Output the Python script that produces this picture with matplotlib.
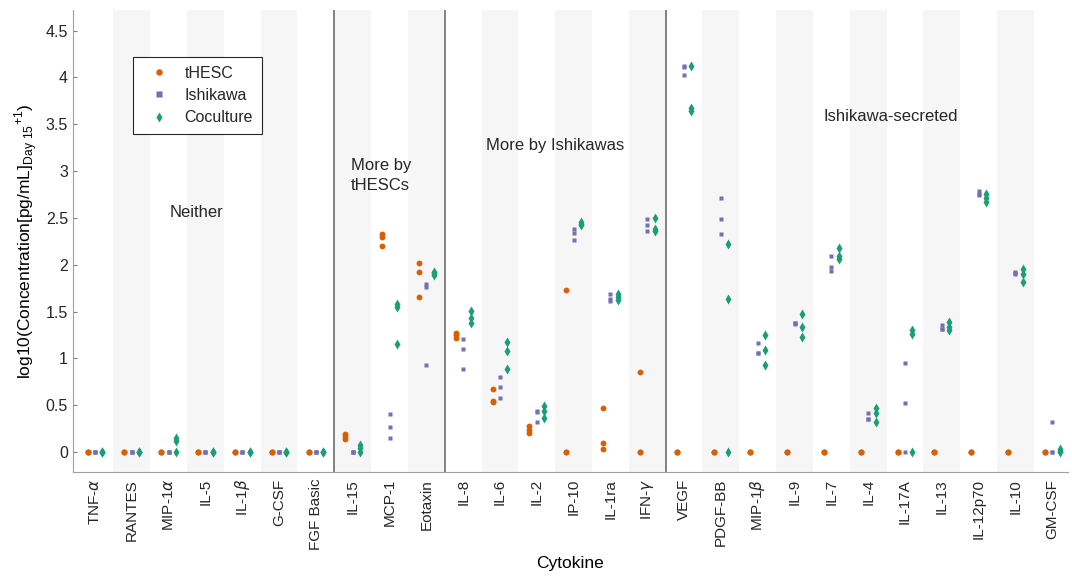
import matplotlib
matplotlib.use("Agg")
import matplotlib.pyplot as plt
from matplotlib import rcParams

rcParams['font.family'] = 'sans-serif'
rcParams['font.sans-serif'] = ['Liberation Sans', 'DejaVu Sans']
rcParams['mathtext.fontset'] = 'custom'
rcParams['mathtext.rm'] = 'Liberation Sans'
rcParams['mathtext.it'] = 'DejaVu Sans:italic'
rcParams['text.color'] = '#262626'

# --- data ---
cytokines = ["TNF-$\\alpha$", "RANTES", "MIP-1$\\alpha$", "IL-5", "IL-1$\\beta$", "G-CSF", "FGF Basic",
             "IL-15", "MCP-1", "Eotaxin",
             "IL-8", "IL-6", "IL-2", "IP-10", "IL-1ra", "IFN-$\\gamma$",
             "VEGF", "PDGF-BB", "MIP-1$\\beta$", "IL-9", "IL-7", "IL-4", "IL-17A", "IL-13",
             "IL-12p70", "IL-10", "GM-CSF"]

thesc = [[0, 0, 0], [0, 0, 0], [0, 0, 0], [0, 0, 0], [0, 0, 0], [0, 0, 0], [0, 0, 0],
         [0.19, 0.17, 0.14], [2.33, 2.30, 2.20], [2.02, 1.92, 1.66],
         [1.27, 1.25, 1.22], [0.67, 0.55, 0.54], [0.28, 0.24, 0.20], [1.73, 0, 0],
         [0.47, 0.10, 0.03], [0.86, 0, 0],
         [0, 0, 0], [0, 0, 0], [0, 0, 0], [0, 0, 0], [0, 0, 0], [0, 0, 0], [0, 0, 0],
         [0, 0, 0], [0, 0, 0], [0, 0, 0], [0, 0, 0]]

ishikawa = [[0, 0, 0], [0, 0, 0], [0, 0, 0], [0, 0, 0], [0, 0, 0], [0, 0, 0], [0, 0, 0],
            [0, 0, 0], [0.41, 0.27, 0.15], [1.80, 1.76, 0.93],
            [1.21, 1.10, 0.89], [0.80, 0.70, 0.58], [0.44, 0.43, 0.32], [2.38, 2.34, 2.26],
            [1.69, 1.63, 1.61], [2.49, 2.43, 2.36],
            [4.12, 4.11, 4.03], [2.71, 2.49, 2.33], [1.17, 1.06, 1.06], [1.38, 1.38, 1.37],
            [2.09, 1.98, 1.93], [0.42, 0.35, 0.35], [0.95, 0.53, 0],
            [1.36, 1.32, 1.31], [2.79, 2.76, 2.74], [1.92, 1.91, 1.90], [0.32, 0, 0]]

coculture = [[0, 0, 0], [0, 0, 0], [0, 0.12, 0.15], [0, 0, 0], [0, 0, 0], [0, 0, 0], [0, 0, 0],
             [0, 0.05, 0.08], [1.58, 1.55, 1.15], [1.92, 1.91, 1.89],
             [1.51, 1.43, 1.38], [1.18, 1.08, 0.89], [0.49, 0.44, 0.37], [2.46, 2.44, 2.42],
             [1.69, 1.66, 1.62], [2.50, 2.38, 2.36],
             [4.12, 3.67, 3.64], [2.22, 1.63, 0], [1.25, 1.09, 0.93], [1.48, 1.34, 1.23],
             [2.18, 2.09, 2.06], [0.47, 0.42, 0.32], [1.30, 1.26, 0],
             [1.39, 1.34, 1.30], [2.76, 2.71, 2.67], [1.96, 1.90, 1.82], [0.03, 0.01, 0]]

group_edges = [7.5, 10.5, 16.5]
group_labels = ["Neither", "More by\ntHESCs", "More by Ishikawas", "Ishikawa-secreted"]

C_THESC = "#d95f02"
C_ISHI = "#7570b3"
C_COC = "#1b9e77"

fig = plt.figure(figsize=(10.72, 5.84), dpi=100)
ax = fig.add_axes([0.068, 0.192, 0.928, 0.791])

n = len(cytokines)
pos = list(range(1, n + 1))

# bandas alternas
for i in pos:
    if i % 2 == 0:
        ax.axvspan(i - 0.5, i + 0.5, color='#f6f6f6', zorder=0, lw=0)

for e in group_edges:
    ax.axvline(e, color='#6e6e6e', lw=1.2, zorder=1)

off = 0.2
for i, x in enumerate(pos):
    ax.plot([x - off] * 3, thesc[i], 'o', color=C_THESC, ms=4.2, mec='none', zorder=3,
            label='tHESC' if i == 0 else None)
    ax.plot([x] * 3, ishikawa[i], 's', color=C_ISHI, ms=3.4, mec='none', zorder=3,
            label='Ishikawa' if i == 0 else None)
    ax.plot([x + off] * 3, coculture[i], 'd', color=C_COC, ms=4.6, mec='none', zorder=3,
            label='Coculture' if i == 0 else None)

ax.set_xlim(0.4, 27.42)
ax.set_ylim(-0.21, 4.72)
ax.set_xticks(pos)
ax.set_xticklabels(cytokines, rotation=90, fontsize=11, color='#262626')
ax.set_yticks([0, 0.5, 1, 1.5, 2, 2.5, 3, 3.5, 4, 4.5])
ax.set_yticklabels(['0', '0.5', '1', '1.5', '2', '2.5', '3', '3.5', '4', '4.5'], fontsize=11.5)
ax.tick_params(axis='both', direction='in', length=3, color='#808080', labelcolor='#262626')
ax.tick_params(axis='x', length=0, pad=5)

ax.spines['top'].set_visible(False)
ax.spines['right'].set_visible(False)
ax.spines['left'].set_color('#a0a0a0')
ax.spines['bottom'].set_color('#a0a0a0')

ax.set_xlabel("Cytokine", fontsize=12.5, labelpad=4)
ax.set_ylabel(r"log10(Concentration[pg/mL]$_{\mathrm{Day\ 15}}$$^{\mathrm{+1}}$)", fontsize=12.5, labelpad=4)

# textos de grupo
ax.text(3.76, 2.56, group_labels[0], fontsize=12, ha='center', va='center')
ax.text(7.95, 2.95, group_labels[1], fontsize=12, ha='left', va='center', linespacing=1.4)
ax.text(13.5, 3.27, group_labels[2], fontsize=12, ha='center', va='center')
ax.text(22.6, 3.58, group_labels[3], fontsize=12, ha='center', va='center')

leg = ax.legend(loc='upper left', bbox_to_anchor=(0.06, 0.898), borderaxespad=0,
                fontsize=11.5, frameon=True, fancybox=False, edgecolor='#262626',
                framealpha=1, handletextpad=0.5, borderpad=0.55, labelspacing=0.45,
                handlelength=2.2, markerscale=1.1)
leg.get_frame().set_linewidth(0.8)

fig.savefig("out.png", dpi=100, facecolor='white')
